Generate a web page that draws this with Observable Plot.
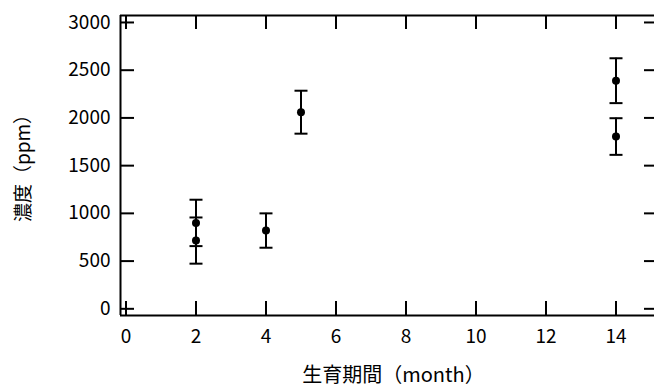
<!DOCTYPE html>
<html>
<head>
<meta charset="utf-8">
<script src="https://cdn.jsdelivr.net/npm/d3@7"></script>
<script src="https://cdn.jsdelivr.net/npm/@observablehq/plot@0.6"></script>
<style>
  html, body { margin: 0; padding: 0; background: #fff; }
  #chart svg { display: block; }
</style>
</head>
<body>
<div id="chart"></div>
<script>
// Data
const months = [2, 2, 4, 5, 14, 14];
const means  = [900, 715, 820, 2060, 2390, 1805];
const errs   = [243, 242, 180, 225, 235, 192];

const xTicks = [0, 2, 4, 6, 8, 10, 12, 14];
const yTicks = [0, 500, 1000, 1500, 2000, 2500, 3000];
const xLabel = "生育期間（month）";
const yLabel = "濃度（ppm）";

const xDomain = [-0.157, 15.1];
const yDomain = [-70, 3073];

const data = months.map((m, i) => ({month: m, mean: means[i], err: errs[i]}));

const W = 654, H = 389;
const mL = 120, mR = 0, mT = 15, mB = 74;
const fw = W - mL - mR, fh = H - mT - mB;

const capSymbol = {
  draw(ctx, size) {
    const r = Math.sqrt(size / Math.PI);
    ctx.moveTo(-r, 0);
    ctx.lineTo(r, 0);
  }
};

const chart = Plot.plot({
  width: W,
  height: H,
  marginLeft: mL,
  marginRight: mR,
  marginTop: mT,
  marginBottom: mB,
  style: {background: "#fff", color: "#000", fontFamily: "'Noto Sans CJK JP', 'Noto Sans', sans-serif", fontSize: "19px"},
  x: {domain: xDomain, inset: 0},
  y: {domain: yDomain, inset: 0},
  marks: [
    // frame lines
    Plot.ruleX([xDomain[0]], {stroke: "#000", strokeWidth: 2}),
    Plot.ruleY([yDomain[0], yDomain[1]], {stroke: "#000", strokeWidth: 2}),
    // inward ticks
    Plot.tickY(yTicks, {y: d => d, insetRight: fw - 14, stroke: "#000", strokeWidth: 2}),
    Plot.tickY(yTicks, {y: d => d, insetLeft: fw - 10, stroke: "#000", strokeWidth: 2}),
    Plot.tickX(xTicks, {x: d => d, insetBottom: fh - 14, stroke: "#000", strokeWidth: 2}),
    Plot.tickX(xTicks, {x: d => d, insetTop: fh - 14, stroke: "#000", strokeWidth: 2}),
    // tick labels
    Plot.axisY(yTicks, {tickSize: 0, tickPadding: 10, label: null, fontSize: 19, tickFormat: d => String(d)}),
    Plot.axisX(xTicks, {tickSize: 0, tickPadding: 14, label: null, fontSize: 19, tickFormat: d => String(d)}),
    // axis titles
    Plot.text([xLabel], {text: d => d, frameAnchor: "bottom", dx: 6, dy: 60, textAnchor: "middle", lineAnchor: "middle", fontSize: 20}),
    Plot.text([yLabel], {text: d => d, frameAnchor: "left", dx: -97, dy: -2, rotate: -90, textAnchor: "middle", lineAnchor: "middle", fontSize: 19}),
    // error bars
    Plot.ruleX(data, {x: "month", y1: d => d.mean - d.err, y2: d => d.mean + d.err, stroke: "#000", strokeWidth: 2}),
    Plot.dot(data, {x: "month", y: d => d.mean + d.err, symbol: capSymbol, r: 6.5, stroke: "#000", strokeWidth: 2, fill: "none"}),
    Plot.dot(data, {x: "month", y: d => d.mean - d.err, symbol: capSymbol, r: 6.5, stroke: "#000", strokeWidth: 2, fill: "none"}),
    // points
    Plot.dot(data, {x: "month", y: "mean", r: 4, fill: "#000", stroke: "none"})
  ]
});

document.getElementById("chart").appendChild(chart);
</script>
</body>
</html>
